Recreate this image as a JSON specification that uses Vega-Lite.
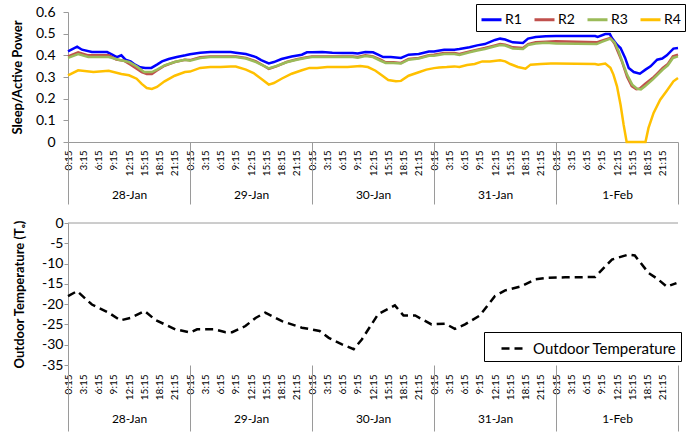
{
"$schema": "https://vega.github.io/schema/vega-lite/v6.json",
"padding": {"left": 11, "top": 3, "right": 5, "bottom": 0},
"background": "white",
"config": {
  "font": "Lato",
  "view": {"stroke": null},
  "concat": {"spacing": 11},
  "axis": {"labelColor": "#000", "titleColor": "#000", "domainColor": "#9a9a9a", "tickColor": "#9a9a9a", "grid": false}
},
"resolve": {"scale": {"color": "independent", "strokeDash": "independent"}, "legend": {"color": "independent", "strokeDash": "independent"}},
"datasets": {
"power": [
{"t":0,"s":"R1","v":0.418},{"t":1.8,"s":"R1","v":0.44},{"t":2.75,"s":"R1","v":0.426},{"t":4.7,"s":"R1","v":0.415},{"t":7.7,"s":"R1","v":0.415},{"t":8.7,"s":"R1","v":0.403},{"t":9.6,"s":"R1","v":0.392},{"t":10.5,"s":"R1","v":0.4},{"t":11.3,"s":"R1","v":0.38},{"t":12.3,"s":"R1","v":0.372},{"t":13.2,"s":"R1","v":0.357},{"t":14.2,"s":"R1","v":0.345},{"t":15.2,"s":"R1","v":0.342},{"t":16.4,"s":"R1","v":0.342},{"t":17.5,"s":"R1","v":0.357},{"t":18.5,"s":"R1","v":0.372},{"t":19.8,"s":"R1","v":0.383},{"t":21.4,"s":"R1","v":0.392},{"t":23.1,"s":"R1","v":0.4},
{"t":24,"s":"R1","v":0.405},{"t":26,"s":"R1","v":0.412},{"t":28,"s":"R1","v":0.415},{"t":30,"s":"R1","v":0.415},{"t":32,"s":"R1","v":0.415},{"t":33,"s":"R1","v":0.412},{"t":35,"s":"R1","v":0.406},{"t":37,"s":"R1","v":0.392},{"t":38,"s":"R1","v":0.378},{"t":39.5,"s":"R1","v":0.363},{"t":40.5,"s":"R1","v":0.369},{"t":42,"s":"R1","v":0.383},{"t":44,"s":"R1","v":0.395},{"t":46,"s":"R1","v":0.403},{"t":47,"s":"R1","v":0.414},
{"t":48,"s":"R1","v":0.414},{"t":50,"s":"R1","v":0.415},{"t":52,"s":"R1","v":0.412},{"t":54,"s":"R1","v":0.411},{"t":56,"s":"R1","v":0.411},{"t":57,"s":"R1","v":0.408},{"t":58.5,"s":"R1","v":0.415},{"t":60,"s":"R1","v":0.414},{"t":61,"s":"R1","v":0.403},{"t":62,"s":"R1","v":0.392},{"t":63.5,"s":"R1","v":0.392},{"t":65.5,"s":"R1","v":0.388},{"t":67,"s":"R1","v":0.403},{"t":69,"s":"R1","v":0.406},{"t":71,"s":"R1","v":0.418},
{"t":72,"s":"R1","v":0.418},{"t":74,"s":"R1","v":0.426},{"t":76,"s":"R1","v":0.426},{"t":77,"s":"R1","v":0.429},{"t":79,"s":"R1","v":0.437},{"t":80.5,"s":"R1","v":0.446},{"t":82,"s":"R1","v":0.452},{"t":84,"s":"R1","v":0.471},{"t":85,"s":"R1","v":0.477},{"t":86,"s":"R1","v":0.473},{"t":87.5,"s":"R1","v":0.46},{"t":89.5,"s":"R1","v":0.457},{"t":90.5,"s":"R1","v":0.477},{"t":92,"s":"R1","v":0.485},{"t":94,"s":"R1","v":0.488},
{"t":96,"s":"R1","v":0.489},{"t":103.7,"s":"R1","v":0.489},{"t":104.2,"s":"R1","v":0.485},{"t":105.7,"s":"R1","v":0.498},{"t":106.6,"s":"R1","v":0.498},{"t":107,"s":"R1","v":0.48},{"t":108,"s":"R1","v":0.449},{"t":108.7,"s":"R1","v":0.434},{"t":109.6,"s":"R1","v":0.388},{"t":110.3,"s":"R1","v":0.342},{"t":111.3,"s":"R1","v":0.323},{"t":112.5,"s":"R1","v":0.315},{"t":113.6,"s":"R1","v":0.334},{"t":114.6,"s":"R1","v":0.349},{"t":115.9,"s":"R1","v":0.38},{"t":116.9,"s":"R1","v":0.385},{"t":117.8,"s":"R1","v":0.4},{"t":119.1,"s":"R1","v":0.431},{"t":120,"s":"R1","v":0.434},
{"t":0,"s":"R2","v":0.395},{"t":2,"s":"R2","v":0.414},{"t":4,"s":"R2","v":0.4},{"t":8,"s":"R2","v":0.4},{"t":9.5,"s":"R2","v":0.38},{"t":11,"s":"R2","v":0.375},{"t":12.3,"s":"R2","v":0.357},{"t":13.5,"s":"R2","v":0.338},{"t":14.5,"s":"R2","v":0.323},{"t":15.5,"s":"R2","v":0.314},{"t":16.5,"s":"R2","v":0.314},{"t":17.5,"s":"R2","v":0.33},{"t":19,"s":"R2","v":0.352},{"t":21,"s":"R2","v":0.369},{"t":23,"s":"R2","v":0.38},
{"t":24,"s":"R2","v":0.378},{"t":26,"s":"R2","v":0.391},{"t":28,"s":"R2","v":0.395},{"t":33,"s":"R2","v":0.395},{"t":35,"s":"R2","v":0.388},{"t":37,"s":"R2","v":0.372},{"t":38.5,"s":"R2","v":0.352},{"t":39.5,"s":"R2","v":0.338},{"t":41,"s":"R2","v":0.349},{"t":43,"s":"R2","v":0.369},{"t":45,"s":"R2","v":0.382},{"t":47,"s":"R2","v":0.391},
{"t":48,"s":"R2","v":0.395},{"t":56,"s":"R2","v":0.395},{"t":57,"s":"R2","v":0.392},{"t":58.5,"s":"R2","v":0.4},{"t":60,"s":"R2","v":0.395},{"t":61.5,"s":"R2","v":0.38},{"t":62.5,"s":"R2","v":0.368},{"t":64,"s":"R2","v":0.368},{"t":65.5,"s":"R2","v":0.365},{"t":67,"s":"R2","v":0.383},{"t":69,"s":"R2","v":0.388},{"t":71,"s":"R2","v":0.4},
{"t":72,"s":"R2","v":0.403},{"t":74,"s":"R2","v":0.411},{"t":76,"s":"R2","v":0.411},{"t":77,"s":"R2","v":0.406},{"t":79,"s":"R2","v":0.418},{"t":80.5,"s":"R2","v":0.426},{"t":82,"s":"R2","v":0.434},{"t":84,"s":"R2","v":0.446},{"t":85,"s":"R2","v":0.452},{"t":86,"s":"R2","v":0.449},{"t":87.5,"s":"R2","v":0.437},{"t":89.5,"s":"R2","v":0.434},{"t":90.5,"s":"R2","v":0.452},{"t":92,"s":"R2","v":0.46},{"t":94,"s":"R2","v":0.463},
{"t":96,"s":"R2","v":0.465},{"t":104,"s":"R2","v":0.46},{"t":105,"s":"R2","v":0.468},{"t":106.7,"s":"R2","v":0.48},{"t":107.5,"s":"R2","v":0.455},{"t":108.3,"s":"R2","v":0.41},{"t":109,"s":"R2","v":0.37},{"t":110,"s":"R2","v":0.3},{"t":110.9,"s":"R2","v":0.258},{"t":111.8,"s":"R2","v":0.244},{"t":112.5,"s":"R2","v":0.247},{"t":113.5,"s":"R2","v":0.268},{"t":115,"s":"R2","v":0.295},{"t":116,"s":"R2","v":0.318},{"t":117,"s":"R2","v":0.342},{"t":118,"s":"R2","v":0.36},{"t":119,"s":"R2","v":0.395},{"t":120,"s":"R2","v":0.403},
{"t":0,"s":"R3","v":0.388},{"t":2,"s":"R3","v":0.406},{"t":4,"s":"R3","v":0.392},{"t":8,"s":"R3","v":0.392},{"t":10,"s":"R3","v":0.38},{"t":12,"s":"R3","v":0.369},{"t":13.5,"s":"R3","v":0.349},{"t":15,"s":"R3","v":0.323},{"t":16.5,"s":"R3","v":0.323},{"t":17.5,"s":"R3","v":0.334},{"t":19,"s":"R3","v":0.354},{"t":21,"s":"R3","v":0.369},{"t":23,"s":"R3","v":0.38},
{"t":24,"s":"R3","v":0.375},{"t":26,"s":"R3","v":0.388},{"t":28,"s":"R3","v":0.392},{"t":33,"s":"R3","v":0.392},{"t":35,"s":"R3","v":0.385},{"t":37,"s":"R3","v":0.369},{"t":38.5,"s":"R3","v":0.351},{"t":39.5,"s":"R3","v":0.34},{"t":41,"s":"R3","v":0.351},{"t":43,"s":"R3","v":0.368},{"t":45,"s":"R3","v":0.38},{"t":47,"s":"R3","v":0.389},
{"t":48,"s":"R3","v":0.392},{"t":56,"s":"R3","v":0.392},{"t":57,"s":"R3","v":0.389},{"t":58.5,"s":"R3","v":0.397},{"t":60,"s":"R3","v":0.392},{"t":61.5,"s":"R3","v":0.375},{"t":62.5,"s":"R3","v":0.365},{"t":64,"s":"R3","v":0.365},{"t":65.5,"s":"R3","v":0.362},{"t":67,"s":"R3","v":0.38},{"t":69,"s":"R3","v":0.385},{"t":71,"s":"R3","v":0.398},
{"t":72,"s":"R3","v":0.398},{"t":74,"s":"R3","v":0.406},{"t":76,"s":"R3","v":0.406},{"t":77,"s":"R3","v":0.402},{"t":79,"s":"R3","v":0.414},{"t":80.5,"s":"R3","v":0.422},{"t":82,"s":"R3","v":0.429},{"t":84,"s":"R3","v":0.442},{"t":85,"s":"R3","v":0.448},{"t":86,"s":"R3","v":0.445},{"t":87.5,"s":"R3","v":0.432},{"t":89.5,"s":"R3","v":0.429},{"t":90.5,"s":"R3","v":0.448},{"t":92,"s":"R3","v":0.455},{"t":94,"s":"R3","v":0.458},
{"t":96,"s":"R3","v":0.455},{"t":104,"s":"R3","v":0.452},{"t":105,"s":"R3","v":0.462},{"t":106.7,"s":"R3","v":0.477},{"t":107.5,"s":"R3","v":0.46},{"t":108.3,"s":"R3","v":0.42},{"t":109.2,"s":"R3","v":0.36},{"t":110,"s":"R3","v":0.31},{"t":111,"s":"R3","v":0.265},{"t":112,"s":"R3","v":0.245},{"t":112.7,"s":"R3","v":0.243},{"t":113.5,"s":"R3","v":0.257},{"t":115,"s":"R3","v":0.288},{"t":116,"s":"R3","v":0.311},{"t":117,"s":"R3","v":0.334},{"t":118,"s":"R3","v":0.354},{"t":119,"s":"R3","v":0.388},{"t":120,"s":"R3","v":0.395},
{"t":0,"s":"R4","v":0.308},{"t":2,"s":"R4","v":0.331},{"t":5,"s":"R4","v":0.323},{"t":8,"s":"R4","v":0.329},{"t":10.5,"s":"R4","v":0.314},{"t":12,"s":"R4","v":0.308},{"t":13.5,"s":"R4","v":0.292},{"t":14.5,"s":"R4","v":0.268},{"t":15.5,"s":"R4","v":0.249},{"t":16.5,"s":"R4","v":0.245},{"t":17.5,"s":"R4","v":0.254},{"t":19,"s":"R4","v":0.28},{"t":21,"s":"R4","v":0.306},{"t":23,"s":"R4","v":0.323},
{"t":24,"s":"R4","v":0.325},{"t":26,"s":"R4","v":0.342},{"t":28,"s":"R4","v":0.346},{"t":30,"s":"R4","v":0.346},{"t":32,"s":"R4","v":0.349},{"t":33,"s":"R4","v":0.348},{"t":35,"s":"R4","v":0.334},{"t":36.5,"s":"R4","v":0.318},{"t":38,"s":"R4","v":0.292},{"t":39.5,"s":"R4","v":0.265},{"t":40.5,"s":"R4","v":0.272},{"t":42,"s":"R4","v":0.292},{"t":44,"s":"R4","v":0.315},{"t":46,"s":"R4","v":0.331},{"t":47.5,"s":"R4","v":0.342},
{"t":49,"s":"R4","v":0.342},{"t":51,"s":"R4","v":0.346},{"t":53,"s":"R4","v":0.346},{"t":55,"s":"R4","v":0.346},{"t":57.5,"s":"R4","v":0.351},{"t":59,"s":"R4","v":0.346},{"t":60.5,"s":"R4","v":0.329},{"t":62,"s":"R4","v":0.303},{"t":63,"s":"R4","v":0.286},{"t":64.5,"s":"R4","v":0.28},{"t":65.5,"s":"R4","v":0.282},{"t":67,"s":"R4","v":0.306},{"t":69,"s":"R4","v":0.322},{"t":70.5,"s":"R4","v":0.334},
{"t":72,"s":"R4","v":0.341},{"t":73,"s":"R4","v":0.344},{"t":74.5,"s":"R4","v":0.346},{"t":76,"s":"R4","v":0.349},{"t":77,"s":"R4","v":0.346},{"t":78.5,"s":"R4","v":0.355},{"t":80,"s":"R4","v":0.36},{"t":81.5,"s":"R4","v":0.372},{"t":83,"s":"R4","v":0.372},{"t":85,"s":"R4","v":0.377},{"t":86,"s":"R4","v":0.372},{"t":87,"s":"R4","v":0.36},{"t":88.5,"s":"R4","v":0.346},{"t":90,"s":"R4","v":0.338},{"t":91,"s":"R4","v":0.357},{"t":93,"s":"R4","v":0.36},{"t":95,"s":"R4","v":0.362},
{"t":96,"s":"R4","v":0.362},{"t":103.7,"s":"R4","v":0.36},{"t":104.3,"s":"R4","v":0.357},{"t":105.7,"s":"R4","v":0.362},{"t":106.7,"s":"R4","v":0.343},{"t":107.3,"s":"R4","v":0.311},{"t":108,"s":"R4","v":0.257},{"t":108.7,"s":"R4","v":0.172},{"t":109.3,"s":"R4","v":0.08},{"t":109.9,"s":"R4","v":0},{"t":113.6,"s":"R4","v":0},{"t":114.2,"s":"R4","v":0.065},{"t":115.2,"s":"R4","v":0.134},{"t":116.5,"s":"R4","v":0.195},{"t":117.8,"s":"R4","v":0.237},{"t":119.1,"s":"R4","v":0.28},{"t":120,"s":"R4","v":0.295}
],
"temp": [
{"t":0,"v":-18.0,"s":"Outdoor Temperature"},{"t":1.8,"v":-16.8,"s":"Outdoor Temperature"},{"t":4.7,"v":-20.1,"s":"Outdoor Temperature"},{"t":8,"v":-22.1,"s":"Outdoor Temperature"},{"t":10.3,"v":-24.0,"s":"Outdoor Temperature"},{"t":12.3,"v":-23.4,"s":"Outdoor Temperature"},{"t":15.1,"v":-21.7,"s":"Outdoor Temperature"},{"t":17.2,"v":-23.9,"s":"Outdoor Temperature"},{"t":21.1,"v":-26.2,"s":"Outdoor Temperature"},{"t":24.1,"v":-27.0,"s":"Outdoor Temperature"},{"t":25.4,"v":-26.2,"s":"Outdoor Temperature"},{"t":28.7,"v":-26.2,"s":"Outdoor Temperature"},{"t":31,"v":-26.9,"s":"Outdoor Temperature"},{"t":32.3,"v":-26.9,"s":"Outdoor Temperature"},{"t":34.9,"v":-25.4,"s":"Outdoor Temperature"},{"t":36.9,"v":-23.4,"s":"Outdoor Temperature"},{"t":38.8,"v":-22.1,"s":"Outdoor Temperature"},{"t":42.1,"v":-24.2,"s":"Outdoor Temperature"},{"t":46,"v":-25.8,"s":"Outdoor Temperature"},{"t":49.5,"v":-26.6,"s":"Outdoor Temperature"},{"t":51.3,"v":-28.3,"s":"Outdoor Temperature"},{"t":53.9,"v":-29.9,"s":"Outdoor Temperature"},{"t":56.2,"v":-31.1,"s":"Outdoor Temperature"},{"t":57.8,"v":-28.7,"s":"Outdoor Temperature"},{"t":59.5,"v":-25.4,"s":"Outdoor Temperature"},{"t":61,"v":-22.5,"s":"Outdoor Temperature"},{"t":64.3,"v":-20.3,"s":"Outdoor Temperature"},{"t":66,"v":-22.8,"s":"Outdoor Temperature"},{"t":68.3,"v":-22.8,"s":"Outdoor Temperature"},{"t":71.5,"v":-25.0,"s":"Outdoor Temperature"},{"t":74.2,"v":-24.8,"s":"Outdoor Temperature"},{"t":76.1,"v":-26.1,"s":"Outdoor Temperature"},{"t":78.1,"v":-25.0,"s":"Outdoor Temperature"},{"t":81,"v":-22.8,"s":"Outdoor Temperature"},{"t":84,"v":-18.0,"s":"Outdoor Temperature"},{"t":86,"v":-16.6,"s":"Outdoor Temperature"},{"t":89.2,"v":-15.6,"s":"Outdoor Temperature"},{"t":91.9,"v":-13.9,"s":"Outdoor Temperature"},{"t":94.5,"v":-13.5,"s":"Outdoor Temperature"},{"t":97.8,"v":-13.4,"s":"Outdoor Temperature"},{"t":103.7,"v":-13.3,"s":"Outdoor Temperature"},{"t":107,"v":-9.0,"s":"Outdoor Temperature"},{"t":110.2,"v":-7.8,"s":"Outdoor Temperature"},{"t":111.5,"v":-8.0,"s":"Outdoor Temperature"},{"t":114.2,"v":-12.3,"s":"Outdoor Temperature"},{"t":116.1,"v":-13.9,"s":"Outdoor Temperature"},{"t":117.8,"v":-15.7,"s":"Outdoor Temperature"},{"t":119.7,"v":-14.8,"s":"Outdoor Temperature"}
]
},
"vconcat": [
{
  "width": 610, "height": 130,
  "data": {"name": "power"},
  "encoding": {
    "y": {"field": "v", "type": "quantitative", "scale": {"domain": [0, 0.6], "nice": false},
      "axis": {"title": "Sleep/Active Power", "titleFontWeight": "bold", "titleFontSize": 13, "labelFontSize": 14,
        "values": [0,0.1,0.2,0.3,0.4,0.5,0.6], "labelExpr": "datum.value == 0 ? '0' : format(datum.value, '.1f')",
        "tickSize": 5, "labelPadding": 8, "titlePadding": 11, "labelOverlap": false}}
  },
  "layer": [
    {
      "mark": {"type": "line", "strokeWidth": 2.5},
      "encoding": {
        "x": {"field": "t", "type": "quantitative", "scale": {"domain": [0, 120], "nice": false, "zero": false},
          "axis": {"orient": "bottom", "title": null, "values": [0,3,6,9,12,15,18,21,24,27,30,33,36,39,42,45,48,51,54,57,60,63,66,69,72,75,78,81,84,87,90,93,96,99,102,105,108,111,114,117],
            "labelExpr": "floor(datum.value % 24) + ':15'", "labelAngle": -90, "labelFontSize": 10, "labelPadding": 8, "ticks": false, "domain": true,
            "labelOverlap": false, "labelFlush": false, "labelBound": false}},
        "color": {"field": "s", "type": "nominal",
          "scale": {"domain": ["R1","R2","R3","R4"], "range": ["#0000FF","#C0504D","#9BBB59","#FFC000"]},
          "legend": {"title": null, "orient": "none", "legendX": 408, "legendY": -8, "direction": "horizontal",
            "symbolType": "stroke", "symbolSize": 400, "symbolStrokeWidth": 3, "labelFontSize": 14, "labelOffset": 2,
            "columnPadding": 6, "padding": 4, "strokeColor": "#000", "fillColor": "#fff"}}
      }
    },
    {
      "mark": {"type": "line", "opacity": 0},
      "encoding": {
        "x": {"field": "t", "type": "quantitative",
          "axis": {"orient": "bottom", "title": null, "values": [0,12,24,36,48,60,72,84,96,108,120],
            "labelExpr": "datum.value == 12 ? '28-Jan' : datum.value == 36 ? '29-Jan' : datum.value == 60 ? '30-Jan' : datum.value == 84 ? '31-Jan' : datum.value == 108 ? '1-Feb' : ''",
            "ticks": true, "tickSize": 62, "tickOpacity": {"condition": {"test": "datum.value % 24 == 0", "value": 1}, "value": 0},
            "domain": false, "labelPadding": -15, "labelFontSize": 12, "labelOverlap": false, "labelFlush": false, "labelBound": false}}
      }
    }
  ],
  "resolve": {"axis": {"x": "independent"}}
},
{
  "width": 610, "height": 142,
  "data": {"name": "temp"},
  "encoding": {
    "y": {"field": "v", "type": "quantitative", "scale": {"domain": [-35, 0], "nice": false, "zero": false},
      "axis": {"title": "Outdoor Temperature (Tₒ)", "titleFontWeight": "bold", "titleFontSize": 13, "labelFontSize": 14,
        "values": [-35,-30,-25,-20,-15,-10,-5,0], "labelExpr": "'' + datum.value",
        "tickSize": 4, "labelPadding": 1, "titlePadding": 15, "labelOverlap": false}}
  },
  "layer": [
    {
      "mark": {"type": "line", "strokeWidth": 2.5, "color": "#000"},
      "encoding": {
        "x": {"field": "t", "type": "quantitative", "scale": {"domain": [0, 120], "nice": false, "zero": false},
          "axis": {"orient": "bottom", "title": null, "values": [0,3,6,9,12,15,18,21,24,27,30,33,36,39,42,45,48,51,54,57,60,63,66,69,72,75,78,81,84,87,90,93,96,99,102,105,108,111,114,117],
            "labelExpr": "floor(datum.value % 24) + ':15'", "labelAngle": -90, "labelFontSize": 10, "labelPadding": 9, "ticks": false, "domain": false,
            "labelOverlap": false, "labelFlush": false, "labelBound": false}},
        "strokeDash": {"field": "s", "type": "nominal",
          "scale": {"domain": ["Outdoor Temperature"], "range": [[8, 5]]},
          "legend": {"title": null, "orient": "none", "legendX": 416, "legendY": 109,
            "symbolType": "stroke", "symbolSize": 484, "symbolStrokeWidth": 2.5, "symbolStrokeColor": "#000",
            "labelFontSize": 15, "labelOffset": 8, "symbolOffset": 12, "padding": 4, "strokeColor": "#000", "fillColor": "#fff"}}
      }
    },
    {
      "mark": {"type": "line", "opacity": 0},
      "encoding": {
        "x": {"field": "t", "type": "quantitative",
          "axis": {"orient": "bottom", "title": null, "values": [0,12,24,36,48,60,72,84,96,108,120],
            "labelExpr": "datum.value == 12 ? '28-Jan' : datum.value == 36 ? '29-Jan' : datum.value == 60 ? '30-Jan' : datum.value == 84 ? '31-Jan' : datum.value == 108 ? '1-Feb' : ''",
            "ticks": true, "tickSize": 66, "tickOpacity": {"condition": {"test": "datum.value % 24 == 0", "value": 1}, "value": 0},
            "domain": false, "labelPadding": -18, "labelFontSize": 12, "labelOverlap": false, "labelFlush": false, "labelBound": false}}
      }
    },
    {
      "data": {"values": [{"v": 0}]},
      "mark": {"type": "rule", "color": "#9a9a9a", "strokeWidth": 1}
    }
  ],
  "resolve": {"axis": {"x": "independent"}}
}
]
}
